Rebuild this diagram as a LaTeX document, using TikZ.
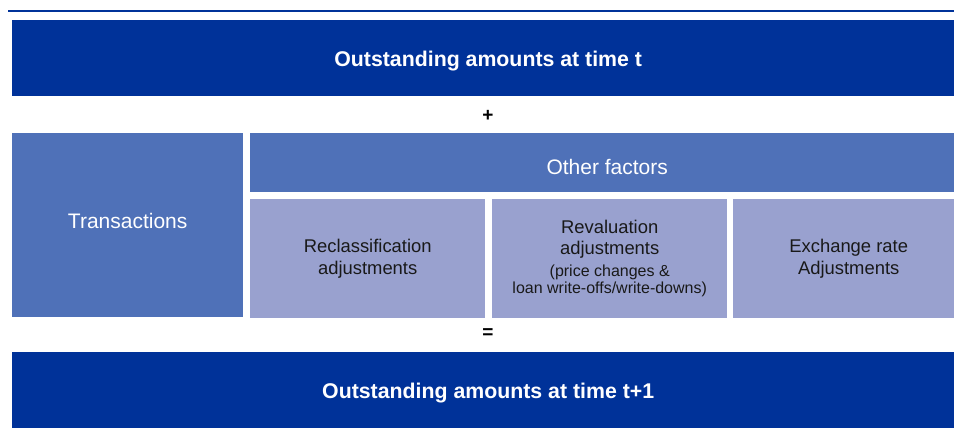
\documentclass[tikz,border=0pt]{standalone}
\usepackage{fontspec}
\setmainfont{Liberation Sans}
\usepackage{xcolor}
\usepackage{tikz}
\usetikzlibrary{positioning}
\definecolor{ecbdark}{HTML}{003299}
\definecolor{ecbmid}{HTML}{4F71B8}
\definecolor{ecblight}{HTML}{99A1CF}
\tikzstyle{total}=[rectangle, fill=ecbdark, text=white, anchor=north west, inner sep=0pt,
minimum width=952pt, minimum height=76pt, text height=16pt, text depth=0pt,
font=\fontsize{21.3}{25}\selectfont\bfseries]
\tikzstyle{flow}=[rectangle, fill=ecbmid, text=white, anchor=north west, inner sep=0pt,
font=\fontsize{21}{25}\selectfont]
\tikzstyle{factor}=[rectangle, fill=ecblight, text=black!90, anchor=north west, inner sep=0pt,
minimum width=235pt, minimum height=119pt, align=center, font=\fontsize{18.4}{21.5}\selectfont]
\tikzstyle{sign}=[font=\fontsize{19}{22}\selectfont\bfseries, inner sep=0pt]

\begin{document}
\begin{tikzpicture}[x=1pt, y=-1pt]
        \useasboundingbox (0,0) rectangle (954,432);
        \clip (0,0) rectangle (954,432);
        \coordinate (rulestart) at (8,11);
        \coordinate (ruleend) at (954,11);
        \draw [ecbdark, line width=2pt] (rulestart) -- (ruleend);

        \node (start)[total] at (12,20) {Outstanding amounts at time t};
        \node (plus)[sign] at (488,116) {+};

        \node (trans)[flow, minimum width=231pt, minimum height=184pt,
                text height=15pt, text depth=9pt] at (12,133) {Transactions};
        \node (other)[flow, minimum width=714pt, minimum height=59pt,
                text height=24pt, text depth=0pt] at (250,133) {Other factors};

        \node (reclass)[factor] at (250,199) {Reclassification\\adjustments};
        \node (reval)[factor] at (492,199)
                {
                Revaluation\\
                adjustments\\
                {\fontsize{16}{17.5}\selectfont (price changes \&}\\[-4pt]
                {\fontsize{16}{17.5}\selectfont loan write-offs/write-downs)}
            };
        \node (exchange)[factor, minimum width=231pt] at (733,199) {Exchange rate\\Adjustments};

        \node (equals)[sign] at (488,334) {=};
        \node (end)[total] at (12,352) {Outstanding amounts at time t+1};
    \end{tikzpicture}
\end{document}
